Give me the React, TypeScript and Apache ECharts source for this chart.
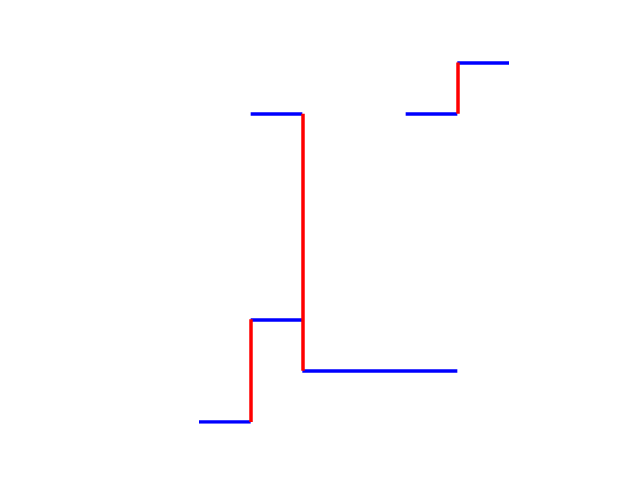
import React, { useEffect, useRef } from "react";
import * as echarts from "echarts";

// Horizontal segments: [xStart, xEnd, y]
const horizontalSegments: [number, number, number][] = [
  [0, 1, 0],
  [1, 2, 2],
  [1, 2, 6],
  [2, 5, 1],
  [4, 5, 6],
  [5, 6, 7],
];

// Vertical segments: [x, yStart, yEnd]
const verticalSegments: [number, number, number][] = [
  [1, 0, 2],
  [2, 1, 6],
  [5, 6, 7],
];

const xRange = [0, 6];
const yRange = [0, 7];

export default function App() {
  const ref = useRef<HTMLDivElement>(null);
  useEffect(() => {
    if (!ref.current) return;
    const chart = echarts.init(ref.current, undefined, { renderer: "svg" });
    chart.setOption({
      animation: false,
      backgroundColor: "#ffffff",
      grid: { left: 199, right: 131, top: 62.5, bottom: 58 },
      xAxis: {
        type: "value",
        min: xRange[0],
        max: xRange[1],
        show: false,
      },
      yAxis: {
        type: "value",
        min: yRange[0],
        max: yRange[1],
        show: false,
      },
      series: [
        {
          type: "lines",
          coordinateSystem: "cartesian2d",
          polyline: false,
          silent: true,
          lineStyle: { color: "#0000ff", width: 3.5, opacity: 1, cap: "butt" },
          data: horizontalSegments.map(([a, b, y]) => ({
            coords: [
              [a, y],
              [b, y],
            ],
          })),
          z: 2,
        },
        {
          type: "lines",
          coordinateSystem: "cartesian2d",
          polyline: false,
          silent: true,
          lineStyle: { color: "#ff0000", width: 3.5, opacity: 1, cap: "butt" },
          data: verticalSegments.map(([x, a, b]) => ({
            coords: [
              [x, a],
              [x, b],
            ],
          })),
          z: 3,
        },
      ],
    });
    return () => chart.dispose();
  }, []);
  return <div ref={ref} style={{ width: 640, height: 480, margin: -8 }} />;
}
